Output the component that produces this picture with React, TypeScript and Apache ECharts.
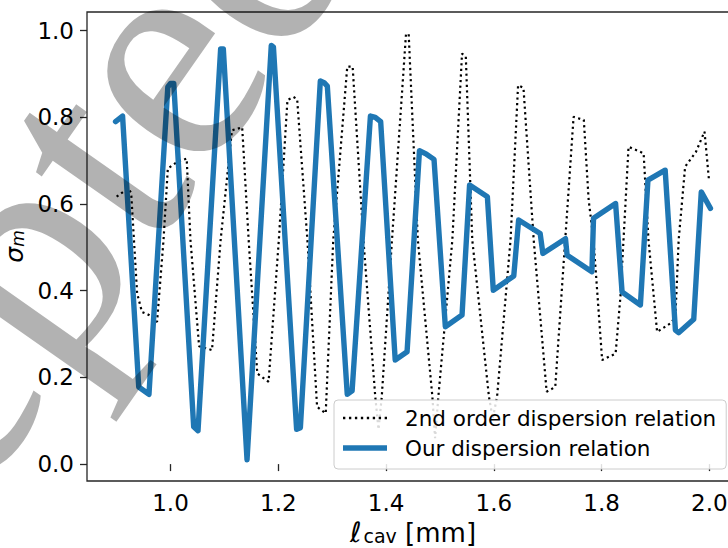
import React, { useEffect, useRef } from "react";
import * as echarts from "echarts";

// "Our dispersion relation" (solid blue)
const ourX = [0.898, 0.911, 0.941, 0.960, 0.995, 1.000, 1.006, 1.043, 1.051, 1.093, 1.098, 1.142, 1.187, 1.191, 1.234, 1.241, 1.278, 1.285, 1.291, 1.328, 1.337, 1.371, 1.380, 1.390, 1.417, 1.439, 1.462, 1.475, 1.489, 1.510, 1.541, 1.555, 1.588, 1.599, 1.637, 1.646, 1.686, 1.691, 1.733, 1.736, 1.782, 1.785, 1.826, 1.838, 1.872, 1.886, 1.918, 1.937, 1.943, 1.971, 1.985, 2.002];
const ourY = [0.790, 0.803, 0.178, 0.161, 0.870, 0.878, 0.878, 0.086, 0.077, 0.958, 0.958, 0.010, 0.966, 0.962, 0.080, 0.084, 0.884, 0.880, 0.872, 0.161, 0.169, 0.803, 0.800, 0.790, 0.240, 0.259, 0.723, 0.715, 0.703, 0.317, 0.344, 0.644, 0.617, 0.401, 0.434, 0.563, 0.532, 0.486, 0.520, 0.482, 0.444, 0.567, 0.601, 0.397, 0.367, 0.655, 0.678, 0.309, 0.303, 0.334, 0.628, 0.590];

// "2nd order dispersion relation" (black dotted)
const secX = [0.900, 0.912, 0.922, 0.927, 0.932, 0.938, 0.947, 0.960, 0.975, 0.987, 0.995, 1.012, 1.030, 1.037, 1.053, 1.077, 1.093, 1.114, 1.133, 1.145, 1.161, 1.182, 1.201, 1.217, 1.228, 1.235, 1.254, 1.272, 1.288, 1.302, 1.328, 1.338, 1.358, 1.380, 1.386, 1.392, 1.411, 1.437, 1.442, 1.459, 1.486, 1.491, 1.497, 1.523, 1.541, 1.548, 1.560, 1.591, 1.598, 1.606, 1.631, 1.645, 1.655, 1.674, 1.698, 1.714, 1.731, 1.748, 1.767, 1.776, 1.785, 1.801, 1.826, 1.835, 1.850, 1.878, 1.887, 1.903, 1.928, 1.937, 1.943, 1.955, 1.975, 1.991, 1.999];
const secY = [0.617, 0.628, 0.636, 0.625, 0.520, 0.394, 0.351, 0.344, 0.328, 0.517, 0.682, 0.697, 0.705, 0.517, 0.272, 0.263, 0.517, 0.770, 0.777, 0.517, 0.209, 0.190, 0.517, 0.840, 0.847, 0.842, 0.517, 0.132, 0.117, 0.517, 0.917, 0.917, 0.517, 0.155, 0.080, 0.155, 0.517, 0.992, 0.992, 0.517, 0.155, 0.060, 0.155, 0.517, 0.947, 0.940, 0.517, 0.155, 0.105, 0.155, 0.517, 0.874, 0.868, 0.517, 0.167, 0.178, 0.490, 0.801, 0.794, 0.609, 0.517, 0.240, 0.255, 0.387, 0.732, 0.717, 0.517, 0.305, 0.325, 0.340, 0.517, 0.686, 0.720, 0.767, 0.659];

const xTicks = [1.0, 1.2, 1.4, 1.6, 1.8, 2.0];
const yTicks = [0.0, 0.2, 0.4, 0.6, 0.8, 1.0];
const seriesNames = ["2nd order dispersion relation", "Our dispersion relation"];
const watermarkText = "Accepted";

function dottedIconPath(): string {
  let d = "path://";
  for (let i = 0; i < 8; i++) {
    const x0 = i * 5.6;
    d += `M${x0},0h2.2v2.2h-2.2z `;
  }
  return d;
}

export default function App() {
  const ref = useRef<HTMLDivElement>(null);
  useEffect(() => {
    if (!ref.current) return;
    const chart = echarts.init(ref.current, undefined, { renderer: "svg" });
    const font = "DejaVu Sans";
    const axisCol = "#262626";
    chart.setOption({
      animation: false,
      backgroundColor: "#ffffff",
      textStyle: { fontFamily: font },
      grid: {
        left: 87,
        top: 12,
        width: 652,
        height: 469,
        show: true,
        borderColor: axisCol,
        borderWidth: 1.3,
        backgroundColor: "transparent",
        containLabel: false,
        outerBoundsMode: "none",
      },
      xAxis: {
        type: "value",
        min: 0.845,
        max: 2.055,
        axisLine: { show: false },
        splitLine: { show: false },
        axisTick: { show: true, length: 7, inside: false, lineStyle: { color: axisCol, width: 1.3 }, customValues: xTicks },
        axisLabel: {
          customValues: xTicks,
          formatter: (v: number) => v.toFixed(1),
          fontSize: 23,
          color: "#000",
          fontFamily: font,
          margin: 10,
        },
        name: "{l|ℓ}{s|cav} {t|[mm]}",
        nameLocation: "middle",
        nameGap: 29,
        nameTextStyle: {
          fontSize: 26,
          color: "#000",
          fontFamily: font,
          lineHeight: 26,
          rich: {
            l: { fontSize: 28, fontFamily: font, fontStyle: "italic", color: "#000", lineHeight: 26, padding: [0, 2, 0, 0] },
            s: { fontSize: 19, fontFamily: font, color: "#000", lineHeight: 16, verticalAlign: "bottom" },
            t: { fontSize: 26, fontFamily: font, color: "#000", lineHeight: 26 },
          },
        },
      },
      yAxis: {
        type: "value",
        min: -0.039,
        max: 1.043,
        axisLine: { show: false },
        splitLine: { show: false },
        axisTick: { show: true, length: 7, inside: false, lineStyle: { color: axisCol, width: 1.3 }, customValues: yTicks },
        axisLabel: {
          customValues: yTicks,
          formatter: (v: number) => v.toFixed(1),
          fontSize: 23,
          color: "#000",
          fontFamily: font,
          margin: 13,
        },
        name: "{g|σ}{m|m}",
        nameLocation: "middle",
        nameGap: 52,
        nameTextStyle: {
          fontSize: 23,
          color: "#000",
          fontFamily: font,
          rich: {
            g: { fontSize: 25, fontFamily: font, fontStyle: "italic", color: "#000" },
            m: { fontSize: 17, fontFamily: font, fontStyle: "italic", color: "#000", verticalAlign: "bottom", padding: [8, 0, 0, 0] },
          },
        },
      },
      legend: {
        left: 334,
        top: 400,
        orient: "vertical",
        itemWidth: 44,
        itemHeight: 14,
        itemGap: 8,
        symbolKeepAspect: true,
        padding: [7, 10, 10, 9],
        backgroundColor: "rgba(255,255,255,0.85)",
        borderColor: "#cccccc",
        borderWidth: 1,
        borderRadius: 4,
        textStyle: { fontSize: 21.5, color: "#000", fontFamily: font, lineHeight: 22, padding: [0, 0, 0, 13] },
        data: [
          { name: seriesNames[0], icon: dottedIconPath(), itemStyle: { color: "#000000" } },
          { name: seriesNames[1], icon: "path://M0,0H44V5.4H0Z", itemStyle: { color: "#1f77b4" } },
        ],
        z: 20,
      },
      series: [
        {
          name: seriesNames[0],
          type: "line",
          data: secX.map((x, i) => [x, secY[i]]),
          symbol: "none",
          lineStyle: { color: "#000000", width: 2.2, type: [2.2, 3.4], cap: "butt" },
          itemStyle: { color: "#000000" },
          z: 3,
        },
        {
          name: seriesNames[1],
          type: "line",
          data: ourX.map((x, i) => [x, ourY[i]]),
          symbol: "none",
          lineStyle: { color: "#1f77b4", width: 5.4, join: "round", cap: "round" },
          itemStyle: { color: "#1f77b4" },
          z: 4,
        },
      ],
      graphic: [
        {
          type: "text",
          x: -408,
          y: 863,
          rotation: 0.96,
          z: 100,
          silent: true,
          style: {
            text: watermarkText,
            font: '320px "Liberation Serif"',
            fill: "rgba(0,0,0,0.3)",
            textAlign: "left",
            textVerticalAlign: "middle",
          },
        },
      ],
    });
    return () => chart.dispose();
  }, []);
  return <div ref={ref} style={{ width: 728, height: 548, position: "absolute", left: 0, top: 0 }} />;
}
